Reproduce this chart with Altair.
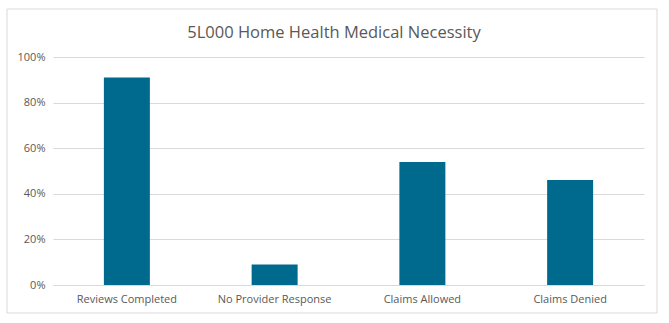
import altair as alt
import pandas as pd

title_text = "5L000 Home Health Medical Necessity"
categories = ["Reviews Completed", "No Provider Response", "Claims Allowed", "Claims Denied"]
values = [0.91, 0.09, 0.54, 0.46]
y_ticks = [0, 0.2, 0.4, 0.6, 0.8, 1.0]

df = pd.DataFrame({"category": categories, "value": values})

FONT = "Open Sans"
GREY = "#595959"
LINE = "#d9d9d9"

bars = alt.Chart(df).mark_bar(size=46, color="#006a8e").encode(
    x=alt.X("category:N", sort=categories,
            scale=alt.Scale(paddingInner=0, paddingOuter=0),
            axis=alt.Axis(title=None, labelAngle=0, ticks=False, domain=True,
                          domainColor=LINE, labelColor=GREY, labelFont=FONT,
                          labelFontSize=11, labelPadding=8, grid=False)),
    y=alt.Y("value:Q", scale=alt.Scale(domain=[0, 1], nice=False),
            axis=alt.Axis(title=None, values=y_ticks, format=".0%", ticks=False,
                          domain=False, gridColor=LINE, labelColor=GREY,
                          labelFont=FONT, labelFontSize=11, labelPadding=8)),
)

one = pd.DataFrame({"t": [title_text]})

border = alt.Chart(one).mark_rect(
    fill=None, stroke=LINE, strokeWidth=1, clip=False
).encode(
    x=alt.value(-46), x2=alt.value(604), y=alt.value(-48), y2=alt.value(256)
)

title = alt.Chart(one).mark_text(
    font=FONT, fontSize=16.5, color=GREY, align="center", baseline="alphabetic"
).encode(
    x=alt.value(281), y=alt.value(-19), text="t:N"
)

chart = alt.layer(border, bars, title).properties(
    width=591, height=228,
    autosize=alt.AutoSizeParams(type="none"),
    padding={"left": 53, "top": 57, "right": 25, "bottom": 38},
    background="white",
).configure_view(stroke=None)

chart.save("out.html", embed_options={"renderer": "svg", "actions": False})
